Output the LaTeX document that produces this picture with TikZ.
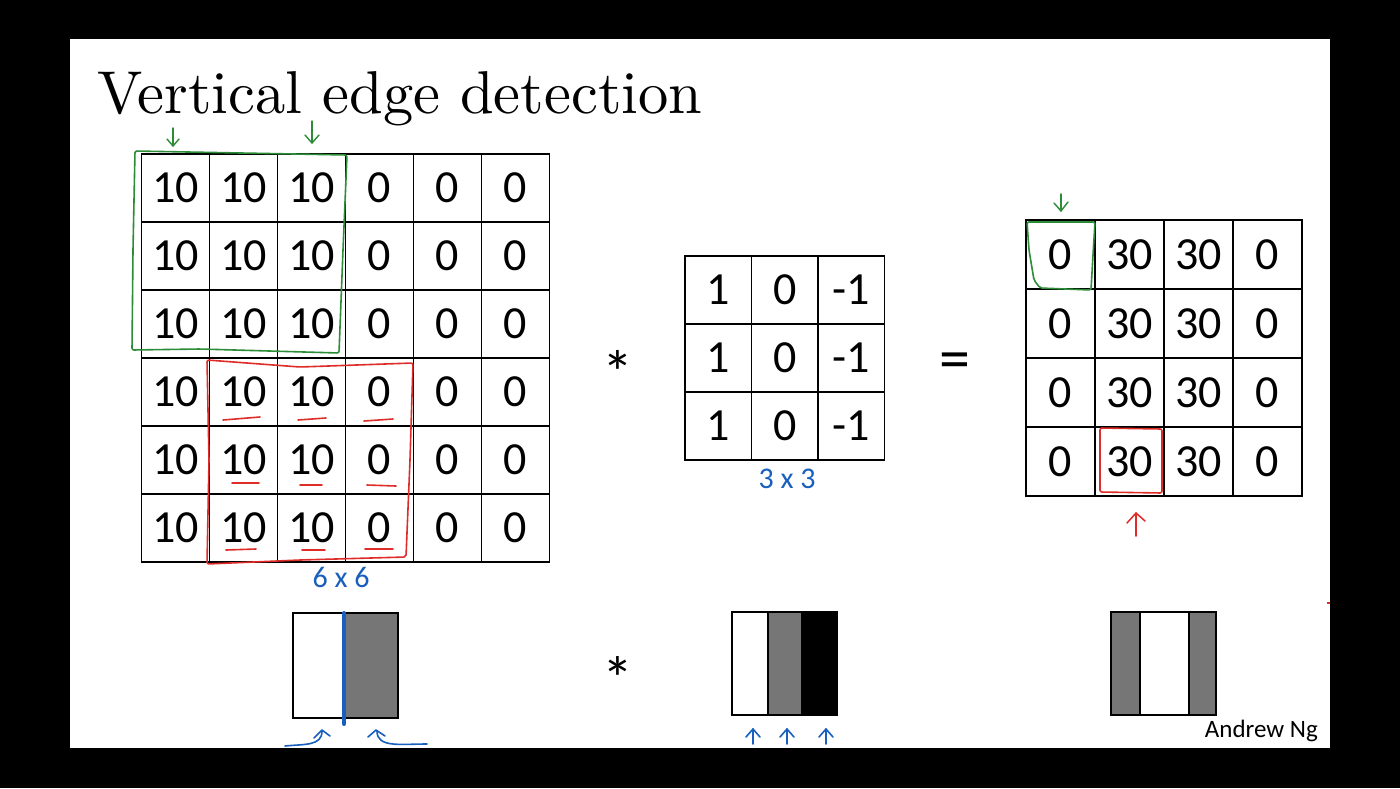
\documentclass[tikz,border=0pt]{standalone}
\usepackage{fontspec}
\newfontfamily\calibri{Carlito}
\newfontfamily\lmten{lmroman10-regular}[Extension=.otf]
\definecolor{hgreen}{RGB}{45,140,55}
\definecolor{hred}{RGB}{222,45,40}
\definecolor{hblue}{RGB}{25,95,190}
\definecolor{midgray}{RGB}{118,118,118}
\newcommand\numfont{\calibri\fontsize{46}{48}\selectfont}
\begin{document}
\begin{tikzpicture}[x=1pt,y=-1pt,
  cell/.style={draw=black, line width=1.3pt, inner sep=0pt, font=\numfont},
  icell/.style={cell, minimum width=68pt, minimum height=68pt},
  fcell/.style={cell, minimum width=66.5pt, minimum height=68pt},
  ocell/.style={cell, minimum width=69pt, minimum height=69pt},
  gbox/.style={draw=hgreen, line width=1.6pt, rounded corners=2pt},
  rbox/.style={draw=hred, line width=1.6pt, rounded corners=2pt},
  rline/.style={draw=hred, line width=1.6pt, line cap=round},
  garrow/.style={draw=hgreen, line width=1.4pt, line cap=round, line join=round},
  rarrow/.style={draw=hred, line width=1.5pt, line cap=round, line join=round},
  barrow/.style={draw=hblue, line width=1.6pt, line cap=round, line join=round},
  hand/.style={text=hblue, font=\calibri\fontsize{30}{32}\selectfont},
  op/.style={font=\calibri\fontsize{62}{64}\selectfont},
  pic/.style={draw=black, line width=2pt}
]
\fill[black] (0,0) rectangle (1400,788);
\fill[white] (70,39) rectangle (1330,748);
\useasboundingbox (0,0) rectangle (1400,788);

% title
\node[anchor=base west, inner sep=0pt, font=\lmten\fontsize{60.5}{62}\selectfont] (title) at (97,113) {Vertical edge detection};

% 6x6 image
\foreach \r in {0,...,5}{
  \foreach \c in {0,...,5}{
    \pgfmathtruncatemacro\v{\c<3 ? 10 : 0}
    \node[icell] (A\r\c) at ({175.5+68*\c},{188+68*\r}) {\v};
  }}
% 3x3 filter
\foreach \r in {0,1,2}{
  \foreach \c/\v in {0/1,1/0,2/-1}{
    \node[fcell] (F\r\c) at ({718.25+66.5*\c},{290+68*\r}) {\v};
  }}
% 4x4 output
\foreach \r in {0,...,3}{
  \foreach \c/\v in {0/0,1/30,2/30,3/0}{
    \node[ocell] (O\r\c) at ({1060.5+69*\c},{254.5+69*\r}) {\v};
  }}

% operators
\node[op] (star1) at (618,372) {*};
\node[op] (eq) at (955,366) {=};
\node[op] (star2) at (618,678) {*};

% green window on image
\draw[gbox] (135,151) -- (347,155) -- (343,250) -- (339,353) -- (200,349) -- (132,350) -- (133,250) -- cycle;
\draw[garrow] (173,128) -- (173,146);
\draw[garrow] (167,139) -- (173,146) -- (179,139);
\draw[garrow] (312,121) -- (312,143);
\draw[garrow] (305,135) -- (312,143) -- (319,135);

% red window on image
\draw[rbox] (207,360) -- (300,367) -- (413,363) -- (410,460) -- (406,557) -- (300,560) -- (207,564) -- (209,460) -- cycle;
\draw[rline] (223,420) -- (260,417);
\draw[rline] (298,420) -- (326,418);
\draw[rline] (364,421) -- (393,419);
\draw[rline] (232,483) -- (259,483);
\draw[rline] (300,485) -- (322,485);
\draw[rline] (367,485) -- (396,486);
\draw[rline] (226,550) -- (256,549);
\draw[rline] (302,550) -- (325,550);
\draw[rline] (365,549) -- (393,549);

% green / red on output
\draw[gbox] (1027,222) -- (1095,222) -- (1093,255) -- (1091,290) -- (1040,288) -- (1034,280) -- (1029,250) -- cycle;
\draw[garrow] (1061,194) -- (1061,211);
\draw[garrow] (1054,203) -- (1061,211) -- (1068,202);
\draw[rbox] (1100,428) -- (1162,429) -- (1162,493) -- (1100,492) -- cycle;
\draw[rarrow] (1136,536) -- (1136,513);
\draw[rarrow] (1127,523) -- (1136,513) -- (1145,521);

% blue annotations
\node[hand] (sz6) at (341,577) {6 x 6};
\node[hand] (sz3) at (787,479) {3 x 3};

% bottom picture 1
\fill[midgray] (345,613) rectangle (398,718);
\draw[pic] (293,613) rectangle (398,718);
\draw[hblue, line width=4pt, line cap=round] (344,613) -- (344,724);
\draw[barrow] (285,746) .. controls (305,744) and (322,746) .. (322,731);
\draw[barrow] (314,738) -- (322,730) -- (330,736);
\draw[barrow] (427,744) .. controls (400,744) and (377,748) .. (377,731);
\draw[barrow] (368,737) -- (376,730) -- (385,736);

% bottom picture 2
\fill[midgray] (768,612) rectangle (801,715);
\fill[black] (801,612) rectangle (837,715);
\draw[pic] (732,612) rectangle (837,715);
\draw[pic] (768,612) -- (768,715);
\foreach \x in {753,787,826}{
  \draw[barrow] (\x,744) -- (\x,729);
  \draw[barrow] (\x-7,737) -- (\x,729) -- (\x+7,737);
}

% bottom picture 3
\fill[midgray] (1111,612) rectangle (1140,715);
\fill[midgray] (1189,612) rectangle (1216,715);
\draw[pic] (1111,612) rectangle (1216,715);
\draw[pic] (1140,612) -- (1140,715);
\draw[pic] (1189,612) -- (1189,715);

% author and stray mark
\node[anchor=base east, inner sep=0pt, font=\calibri\fontsize{25}{27}\selectfont] (author) at (1318,737) {Andrew Ng};
\draw[hred, line width=1.5pt] (1327,603) -- (1330,603);
\end{tikzpicture}
\end{document}
